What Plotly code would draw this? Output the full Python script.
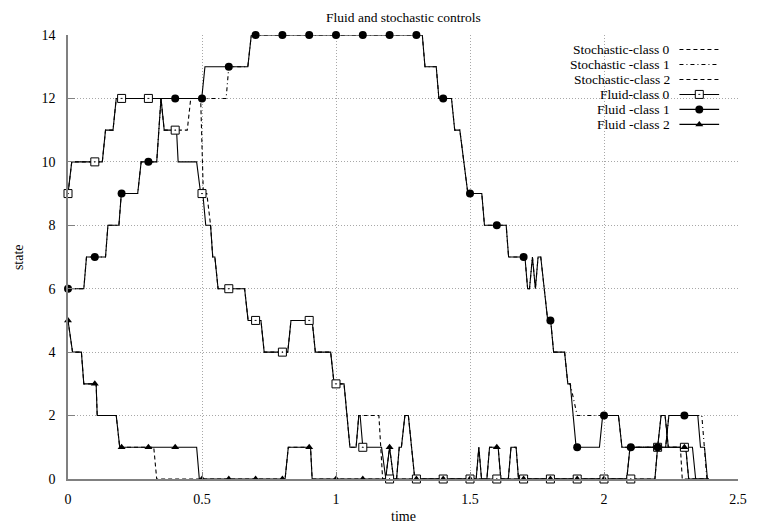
import plotly.graph_objects as go

# ---- data (time, state breakpoints) ----
fluid0_t = [0, 0.014, 0.128, 0.14, 0.168, 0.18, 0.347, 0.359, 0.405, 0.411, 0.48, 0.495, 0.503, 0.514, 0.532,
            0.54, 0.548, 0.56, 0.659, 0.672, 0.72, 0.732, 0.82, 0.832, 0.911, 0.923, 0.98, 0.993, 1.03, 1.052,
            1.075, 1.085, 1.09, 1.1, 1.17, 1.186, 2.19, 2.2, 2.213, 2.228, 2.24, 2.33, 2.342, 2.39]
fluid0_v = [9, 10, 10, 11, 11, 12, 12, 11, 11, 10, 10, 9, 9, 8, 8,
            7, 7, 6, 6, 5, 5, 4, 4, 5, 5, 4, 4, 3, 3, 1,
            1, 2, 2, 1, 1, 0, 0, 1, 2, 2, 1, 1, 0, 0]

fluid1_t = [0, 0.059, 0.069, 0.14, 0.149, 0.19, 0.199, 0.26, 0.273, 0.331, 0.347, 0.499, 0.511, 0.671, 0.684,
            1.322, 1.332, 1.374, 1.384, 1.431, 1.443, 1.462, 1.477, 1.492, 1.544, 1.554, 1.635, 1.644, 1.705,
            1.715, 1.722, 1.733, 1.744, 1.754, 1.764, 1.79, 1.801, 1.812, 1.853, 1.865, 1.874, 1.896, 1.983,
            1.995, 2.054, 2.067, 2.23, 2.242, 2.35, 2.36, 2.375, 2.386, 2.39]
fluid1_v = [6, 6, 7, 7, 8, 8, 9, 9, 10, 10, 12, 12, 13, 13, 14,
            14, 13, 13, 12, 12, 11, 11, 10, 9, 9, 8, 8, 7, 7,
            6, 6, 7, 6, 7, 7, 5, 5, 4, 4, 3, 3, 1, 1,
            2, 2, 1, 1, 2, 2, 1, 1, 0, 0]

fluid2_t = [0, 0.017, 0.05, 0.059, 0.105, 0.109, 0.18, 0.193, 0.48, 0.49, 0.81, 0.822, 0.905, 0.911, 1.185,
            1.2, 1.215, 1.226, 1.236, 1.244, 1.257, 1.27, 1.294, 1.523, 1.533, 1.543, 1.563, 1.573, 1.605,
            1.615, 1.643, 1.653, 1.672, 1.681, 2.085, 2.097, 2.305, 2.316, 2.39]
fluid2_v = [5, 4, 4, 3, 3, 2, 2, 1, 1, 0, 0, 1, 1, 0, 0,
            1, 0, 0, 1, 1, 2, 2, 0, 0, 1, 0, 0, 1, 1,
            0, 0, 1, 1, 0, 0, 1, 1, 0, 0]

stoch0_t = [0, 0.014, 0.128, 0.14, 0.168, 0.18, 0.347, 0.359, 0.445, 0.458, 0.495, 0.505, 0.518, 0.532,
            0.54, 0.548, 0.56, 0.659, 0.672, 0.72, 0.732, 0.82, 0.832, 0.911, 0.923, 0.98, 0.993, 1.03, 1.052,
            1.075, 1.085, 1.16, 1.174, 2.19, 2.2, 2.213, 2.228, 2.24, 2.285, 2.292, 2.39]
stoch0_v = [9, 10, 10, 11, 11, 12, 12, 11, 11, 12, 12, 9, 9, 8,
            7, 7, 6, 6, 5, 5, 4, 4, 5, 5, 4, 4, 3, 3, 1,
            1, 2, 2, 0, 0, 1, 2, 2, 1, 1, 0, 0]

stoch1_t = [0, 0.059, 0.069, 0.14, 0.149, 0.19, 0.199, 0.26, 0.273, 0.331, 0.347, 0.59, 0.6, 0.671, 0.684,
            1.322, 1.332, 1.374, 1.384, 1.431, 1.443, 1.462, 1.477, 1.492, 1.544, 1.554, 1.635, 1.644, 1.705,
            1.715, 1.722, 1.733, 1.744, 1.754, 1.764, 1.79, 1.801, 1.812, 1.853, 1.865, 1.874, 1.9, 1.995,
            2.054, 2.067, 2.23, 2.242, 2.365, 2.384, 2.39]
stoch1_v = [6, 6, 7, 7, 8, 8, 9, 9, 10, 10, 12, 12, 13, 13, 14,
            14, 13, 13, 12, 12, 11, 11, 10, 9, 9, 8, 8, 7, 7,
            6, 6, 7, 6, 7, 7, 5, 5, 4, 4, 3, 3, 2, 2,
            2, 1, 1, 2, 2, 0, 0]

stoch2_t = [0, 0.017, 0.05, 0.059, 0.105, 0.109, 0.18, 0.193, 0.32, 0.331, 0.81, 0.822, 0.905, 0.911, 1.185,
            1.2, 1.215, 1.226, 1.236, 1.244, 1.257, 1.27, 1.294, 1.523, 1.533, 1.543, 1.563, 1.573, 1.605,
            1.615, 1.643, 1.653, 1.672, 1.681, 2.085, 2.097, 2.305, 2.316, 2.39]
stoch2_v = [5, 4, 4, 3, 3, 2, 2, 1, 1, 0, 0, 1, 1, 0, 0,
            1, 0, 0, 1, 1, 2, 2, 0, 0, 1, 0, 0, 1, 1,
            0, 0, 1, 1, 0, 0, 1, 1, 0, 0]

# point markers every 0.1
mark_t = [0, 0.1, 0.2, 0.3, 0.4, 0.5, 0.6, 0.7, 0.8, 0.9, 1.0, 1.1, 1.2, 1.3, 1.4, 1.5, 1.6, 1.7, 1.8, 1.9,
          2.0, 2.1, 2.2, 2.3]
fluid0_mark = [9, 10, 12, 12, 11, 9, 6, 5, 4, 5, 3, 1, 0, 0, 0, 0, 0, 0, 0, 0, 0, 0, 1, 1]
fluid1_mark = [6, 7, 9, 10, 12, 12, 13, 14, 14, 14, 14, 14, 14, 14, 12, 9, 8, 7, 5, 1, 2, 1, 1, 2]
fluid2_mark = [5, 3, 1, 1, 1, 0, 0, 0, 0, 1, 0, 0, 1, 0, 0, 0, 1, 0, 0, 0, 0, 1, 1, 1]

x_ticks = [0, 0.5, 1, 1.5, 2, 2.5]
x_labels = ['0', '0.5', '1', '1.5', '2', '2.5']
y_ticks = [0, 2, 4, 6, 8, 10, 12, 14]

legend_names = ['Stochastic-class 0', 'Stochastic -class 1', 'Stochastic-class 2',
                'Fluid-class 0', 'Fluid -class 1', 'Fluid -class 2']

FONT = 'Times New Roman, Liberation Serif, DejaVu Serif, serif'
DASH0 = '4px,3px'
DASH1 = '4px,3px,1px,3px'

# plot box in the reference picture (pixels): x 68..743, y 35..479.5
PX0, PX1, PY0, PY1 = 68, 743, 35, 479.5


def paper_x(px):
    return (px - PX0) / (PX1 - PX0)


def paper_y(py):
    return (PY1 - py) / (PY1 - PY0)


def text_at(px, py, text, size=14, **kw):
    fig.add_annotation(x=paper_x(px), y=paper_y(py), xref='paper', yref='paper', text=text,
                       showarrow=False, yanchor='middle', borderpad=0,
                       font=dict(family=FONT, size=size, color='black'), **kw)


fig = go.Figure()

# stochastic curves first, fluid on top
fig.add_trace(go.Scatter(x=stoch0_t, y=stoch0_v, mode='lines', line=dict(color='black', width=1.1, dash=DASH0)))
fig.add_trace(go.Scatter(x=stoch1_t, y=stoch1_v, mode='lines', line=dict(color='black', width=1.1, dash=DASH1)))
fig.add_trace(go.Scatter(x=stoch2_t, y=stoch2_v, mode='lines', line=dict(color='black', width=1.1, dash=DASH0)))

fig.add_trace(go.Scatter(x=fluid0_t, y=fluid0_v, mode='lines', line=dict(color='black', width=1.1)))
fig.add_trace(go.Scatter(x=fluid1_t, y=fluid1_v, mode='lines', line=dict(color='black', width=1.1)))
fig.add_trace(go.Scatter(x=fluid2_t, y=fluid2_v, mode='lines', line=dict(color='black', width=1.1)))

sq = dict(symbol='square-dot', size=8, color='white', line=dict(color='black', width=1))
ci = dict(symbol='circle', size=8, color='black')
tr = dict(symbol='triangle-up', size=7, color='black')
fig.add_trace(go.Scatter(x=mark_t, y=fluid0_mark, mode='markers', marker=sq, cliponaxis=False))
fig.add_trace(go.Scatter(x=mark_t, y=fluid1_mark, mode='markers', marker=ci, cliponaxis=False))
fig.add_trace(go.Scatter(x=mark_t, y=fluid2_mark, mode='markers', marker=tr, cliponaxis=False))

# key drawn in pixel space on an overlay axis
row_y = [49.5, 64.5, 79.5, 94.5, 109.5, 124.5]
styles = [dict(dash=DASH0), dict(dash=DASH1), dict(dash=DASH0), {}, {}, {}]
marks = [None, None, None, sq, ci, tr]
for i, name in enumerate(legend_names):
    fig.add_trace(go.Scatter(x=[684, 724], y=[row_y[i]] * 2, mode='lines', xaxis='x2', yaxis='y2',
                             line=dict(color='black', width=1.1, **styles[i])))
    if marks[i]:
        fig.add_trace(go.Scatter(x=[704], y=[row_y[i]], mode='markers', xaxis='x2', yaxis='y2', marker=marks[i]))
    text_at(675, row_y[i], name, size=13.5, xanchor='right')

# white key background above the grid
fig.add_shape(type='rect', xref='paper', yref='paper', x0=paper_x(495), x1=paper_x(736),
              y0=paper_y(133), y1=paper_y(40), fillcolor='white', line_width=0, layer='between')

text_at(405.5, 17, 'Fluid and stochastic controls', size=13.5, xanchor='center')
text_at(405.5, 517, 'time', size=14, xanchor='center')
text_at(18, 257, 'state', size=14, xanchor='center', textangle=-90)

# page body has an 8px margin, so the figure is drawn 8px smaller and offset
fig.update_layout(
    width=751, height=521,
    margin=dict(l=PX0 - 8, r=759 - PX1 - 8 + 8, t=PY0 - 8, b=521 - (PY1 - 8)),
    paper_bgcolor='white', plot_bgcolor='white',
    showlegend=False,
    font=dict(family=FONT, size=14, color='black'),
    xaxis=dict(range=[0, 2.5], tickvals=x_ticks, ticktext=x_labels, ticks='inside', ticklen=7,
               tickcolor='#808080', showline=True, linecolor='#808080', linewidth=1.5,
               showgrid=True, gridcolor='#a8a8a8', griddash='1px,2px', gridwidth=1, zeroline=False,
               ticklabelstandoff=6, tickfont=dict(family=FONT, size=14)),
    yaxis=dict(range=[0, 14], tickvals=y_ticks, ticks='inside', ticklen=7,
               tickcolor='#808080', showline=True, linecolor='#808080', linewidth=1.5,
               showgrid=True, gridcolor='#a8a8a8', griddash='1px,2px', gridwidth=1, zeroline=False,
               ticklabelstandoff=8, tickfont=dict(family=FONT, size=14)),
    xaxis2=dict(range=[PX0, PX1], overlaying='x', visible=False, fixedrange=True),
    yaxis2=dict(range=[PY1, PY0], overlaying='y', visible=False, fixedrange=True),
)

fig.write_html("out.html")
